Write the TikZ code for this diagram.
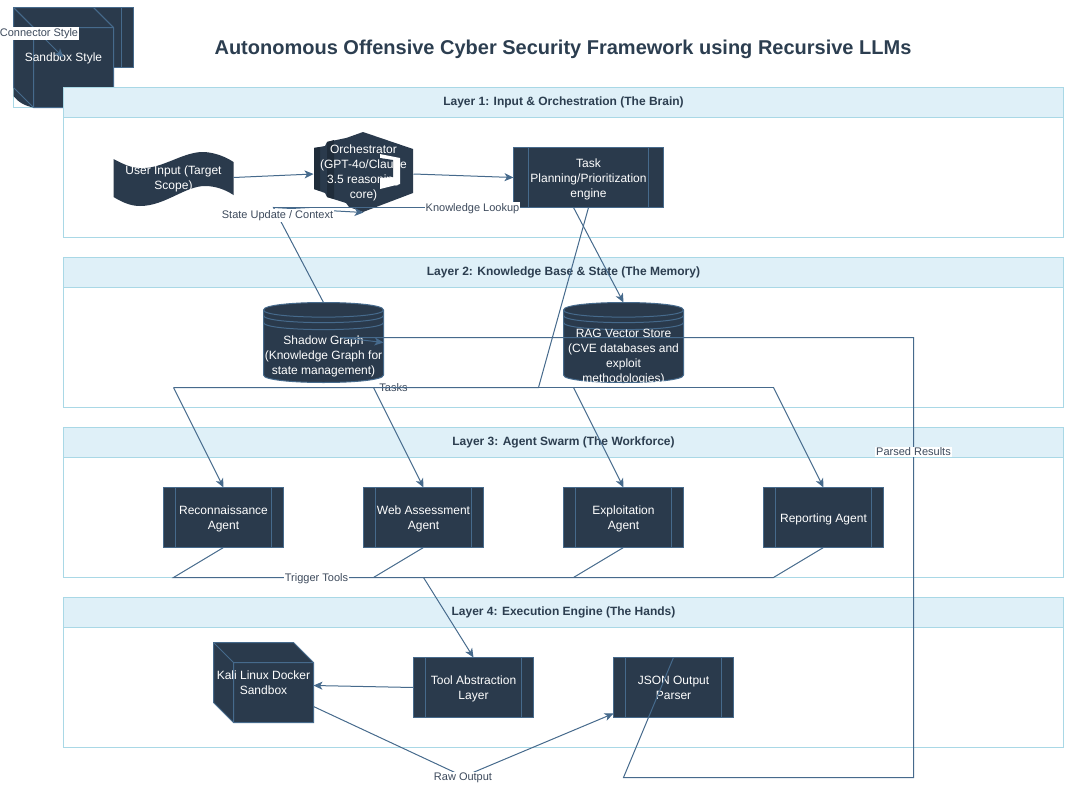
\documentclass[tikz,border=0pt]{standalone}
\usepackage{fontspec}
\setmainfont{Liberation Sans}
\usetikzlibrary{arrows.meta}
\definecolor{nodefill}{HTML}{2A3A4C}
\definecolor{edgecol}{HTML}{466A8C}
\definecolor{headfill}{HTML}{DFF0F8}
\definecolor{headline}{HTML}{A9D8E6}
\definecolor{titlecol}{HTML}{2C3E50}
\definecolor{labelcol}{HTML}{3D4A5C}
\definecolor{slabdark}{HTML}{1F2C3A}
\newcommand{\tp}{\rule{0pt}{11.5pt}}
\newcommand{\bt}{\rule[-2.5pt]{0pt}{2.5pt}}
\tikzset{
  layerbox/.style={draw=headline,fill=white,line width=1pt},
  layerhead/.style={draw=headline,fill=headfill,line width=1pt},
  layertitle/.style={font=\fontsize{12}{15}\selectfont\bfseries,text=titlecol,anchor=center},
  shapeline/.style={draw=edgecol,fill=nodefill,line width=1pt,line join=miter},
  innerline/.style={draw=edgecol,line width=1pt},
  nodetext/.style={font=\fontsize{12}{15}\selectfont,text=white,align=center,inner sep=0pt,outer sep=0pt,anchor=center},
  holder/.style={inner sep=0pt,outer sep=0pt,minimum width=120pt,minimum height=80pt},
  subproc/.style={shapeline,nodetext,minimum height=60pt,minimum width=120pt},
  wire/.style={draw=edgecol,line width=1pt,line join=miter},
  arrowwire/.style={wire,-{Stealth[length=9pt,width=8pt,inset=2.5pt]}},
  edgelabel/.style={font=\fontsize{11}{13}\selectfont,text=labelcol,fill=white,inner sep=1pt,anchor=center},
  barelabel/.style={font=\fontsize{11}{13}\selectfont,text=labelcol,inner sep=0pt,anchor=center}
}
\newcommand{\subbars}[2]{%
  \draw[innerline] ([xshift=#2pt]#1.north west) -- ([xshift=#2pt]#1.south west);
  \draw[innerline] ([xshift=-#2pt]#1.north east) -- ([xshift=-#2pt]#1.south east);
}
\newcommand{\cylinderat}[1]{%
  \begin{scope}[shift={(#1,302.5)}]
    \draw[shapeline] (0,7.5) .. controls (0,-2.5) and (120,-2.5) .. (120,7.5) -- (120,72.5)
       .. controls (120,82.5) and (0,82.5) .. (0,72.5) -- cycle;
    \draw[innerline] (0,7.5) .. controls (0,17) and (120,17) .. (120,7.5);
    \draw[innerline] (0,13) .. controls (0,22.5) and (120,22.5) .. (120,13);
    \draw[innerline] (0,20) .. controls (0,29.5) and (120,29.5) .. (120,20);
  \end{scope}
}
\begin{document}
\begin{tikzpicture}[x=1pt,y=-1pt]
\useasboundingbox (0,0) rectangle (1065,787);
% legend
\draw[layerbox] (13.5,7.5) rectangle (113.5,107.5);
\draw[draw=none,fill=nodefill] (13.5,85) -- (13.5,96) .. controls (18,102) and (25,106) .. (33.5,107.5) -- cycle;
\draw[shapeline] (13.5,7.5) rectangle (133.5,67.5);
\draw[innerline] (121.5,7.5) -- (121.5,67.5);
\draw[shapeline] (13.5,7.5) -- (93.5,7.5) -- (113.5,27.5) -- (113.5,107.5) -- (33.5,107.5) -- (13.5,87.5) -- cycle;
\draw[innerline] (13.5,7.5) -- (33.5,27.5) -- (113.5,27.5) (33.5,27.5) -- (33.5,107.5) (93.5,7.5) -- (113.5,27.5);
\coordinate (legstart) at (13.5,7.5);
\node[nodetext] (legsand) at (63.5,58.5) {Sandbox Style};
\coordinate (legend) at (63.5,57.5);
\draw[arrowwire] (legstart) -- (legend);
\node[edgelabel] (legconn) at (39,33.5) {Connector Style};
% title
\node[font=\fontsize{20}{24}\selectfont\bfseries,text=titlecol] (title) at (563,49.5) {Autonomous Offensive Cyber Security Framework using Recursive LLMs};
% layers
\draw[layerbox] (63.5,87.5) rectangle (1063.5,237.5);
\draw[layerhead] (63.5,87.5) rectangle (1063.5,117.5);
\node[layertitle] (t1) at (563.5,102) {Layer 1: Input \& Orchestration (The Brain)};
\draw[layerbox] (63.5,257.5) rectangle (1063.5,407.5);
\draw[layerhead] (63.5,257.5) rectangle (1063.5,287.5);
\node[layertitle] (t2) at (563.5,272) {Layer 2: Knowledge Base \& State (The Memory)};
\draw[layerbox] (63.5,427.5) rectangle (1063.5,577.5);
\draw[layerhead] (63.5,427.5) rectangle (1063.5,457.5);
\node[layertitle] (t3) at (563.5,442) {Layer 3: Agent Swarm (The Workforce)};
\draw[layerbox] (63.5,597.5) rectangle (1063.5,747.5);
\draw[layerhead] (63.5,597.5) rectangle (1063.5,627.5);
\node[layertitle] (t4) at (563.5,612) {Layer 4: Execution Engine (The Hands)};
% tape
\draw[draw=none,fill=nodefill] (113.5,159) .. controls (125,165) and (133,169) .. (145,168)
  .. controls (165,167) and (185,151) .. (205,152) .. controls (216,153) and (226,157) .. (233.5,162)
  -- (233.5,195) .. controls (226,190) and (216,186) .. (205,186)
  .. controls (185,186) and (165,206) .. (140,206) .. controls (130,206) and (122,202) .. (113.5,197) -- cycle;
% orchestrator
\draw[draw=none,fill=nodefill] (314,148) -- (325,146) -- (327,142) -- (346,138) -- (349,137) -- (363,132) -- (413,149) -- (413,193)
  -- (363,212) -- (349,207) -- (346,203) -- (327,197) -- (325,193) -- (314,189) -- cycle;
\draw[draw=none,fill=slabdark] (314,148) -- (320,147) -- (320,191) -- (314,189) -- cycle;
\draw[draw=none,fill=slabdark] (327,142) -- (334,140) -- (334,199) -- (327,197) -- cycle;
\draw[draw=none,fill=white] (380,154) -- (400,158) -- (400,184) -- (380,189) -- cycle;
\draw[draw=none,fill=nodefill] (380,158) -- (393,160) -- (393,177) -- (380,178) -- cycle;
% nodes
\node[nodetext,minimum width=120pt,minimum height=60pt] (user) at (173.5,178.5) {User Input (Target\\Scope)};
\node[nodetext,minimum width=100pt,minimum height=80pt] (orch) at (363.5,172.5) {Orchestrator\\(GPT-4o/Claude\\3.5 reasoning\\core)};
\node[subproc,minimum width=150pt] (task) at (588.5,177.5) {\tp Task\\Planning/Prioritization\\engine\bt};
\subbars{task}{15}
\cylinderat{263.5}
\node[holder] (shadow) at (323.5,342.5) {};
\node[nodetext] (shadowtext) at (323.5,356.5) {Shadow Graph\\(Knowledge Graph for\\state management)};
\cylinderat{563.5}
\node[holder] (rag) at (623.5,342.5) {};
\node[nodetext] (ragtext) at (623.5,357) {RAG Vector Store\\(CVE databases and\\exploit\\methodologies)};
\node[subproc] (recon) at (223.5,517.5) {\tp Reconnaissance\\Agent\bt};
\subbars{recon}{12}
\node[subproc] (web) at (423.5,517.5) {\tp Web Assessment\\Agent\bt};
\subbars{web}{12}
\node[subproc] (exploit) at (623.5,517.5) {\tp Exploitation\\Agent\bt};
\subbars{exploit}{12}
\node[subproc] (report) at (823.5,517.5) {\tp Reporting Agent};
\subbars{report}{12}
\draw[shapeline] (213.5,642.5) -- (293.5,642.5) -- (313.5,662.5) -- (313.5,722.5) -- (233.5,722.5) -- (213.5,702.5) -- cycle;
\draw[innerline] (213.5,642.5) -- (233.5,662.5) -- (313.5,662.5) (233.5,662.5) -- (233.5,722.5);
\node[nodetext,minimum width=100pt,minimum height=80pt] (kali) at (263.5,682.5) {Kali Linux Docker\\Sandbox};
\node[subproc] (tool) at (473.5,687.5) {\tp Tool Abstraction\\Layer\bt};
\subbars{tool}{12}
\node[subproc] (json) at (673.5,687.5) {\tp JSON Output\\Parser\bt};
\subbars{json}{12}
% way points
\coordinate (su) at (273.5,207.5);
\coordinate (orchin) at (363.5,212.5);
\coordinate (kl) at (573.5,207.5);
\coordinate (ta) at (538.5,387.5);
\coordinate (ta1) at (173.5,387.5);
\coordinate (ta2) at (373.5,387.5);
\coordinate (ta3) at (573.5,387.5);
\coordinate (ta4) at (773.5,387.5);
\coordinate (tr1) at (173.5,577.5);
\coordinate (tr2) at (373.5,577.5);
\coordinate (tr3) at (573.5,577.5);
\coordinate (tr4) at (773.5,577.5);
\coordinate (trt) at (423.5,577.5);
\coordinate (raw) at (463.5,776.5);
\coordinate (pr1) at (623.5,777.5);
\coordinate (pr2) at (913.5,777.5);
\coordinate (pr3) at (913.5,337.5);
\coordinate (pr4) at (340.5,337.5);
% labels under the lines
\node[barelabel] (lbltasks) at (393.5,387.5) {Tasks};
% connectors
\draw[arrowwire] ([yshift=1pt]user.east) -- ([yshift=-1.5pt]orch.west);
\draw[arrowwire] ([yshift=-1.5pt]orch.east) -- (task.west);
\draw[arrowwire] (shadow.north) -- (su) -- (orchin);
\draw[wire] (su) -- (kl);
\draw[arrowwire] (kl) -- (rag.north);
\draw[wire] (task.south) -- (ta) -- (ta1);
\draw[wire] (ta) -- (ta4);
\draw[arrowwire] (ta1) -- (recon.north);
\draw[arrowwire] (ta2) -- (web.north);
\draw[arrowwire] (ta3) -- (exploit.north);
\draw[arrowwire] (ta4) -- (report.north);
\draw[wire] (recon.south) -- (tr1) -- (tr4) -- (report.south);
\draw[wire] (web.south) -- (tr2);
\draw[wire] (exploit.south) -- (tr3);
\draw[arrowwire] (trt) -- (tool.north);
\draw[arrowwire] (tool.west) -- ([yshift=-3pt]kali.east);
\draw[wire] ([yshift=-24pt]kali.east) -- (raw);
\draw[arrowwire] (raw) -- ([yshift=-26pt]json.west);
\draw[arrowwire] (json.north) -- (pr1) -- (pr2) -- (pr3) -- (pr4) -- (shadow.east);
% labels over the lines
\node[edgelabel] (lblstate) at (277.5,215.5) {State Update / Context};
\node[edgelabel] (lblknow) at (472.5,208.5) {Knowledge Lookup};
\node[edgelabel] (lbltrig) at (316.5,578.5) {Trigger Tools};
\node[edgelabel] (lblraw) at (463,777.5) {Raw Output};
\node[edgelabel] (lblparsed) at (913.5,452) {Parsed Results};
\end{tikzpicture}
\end{document}
